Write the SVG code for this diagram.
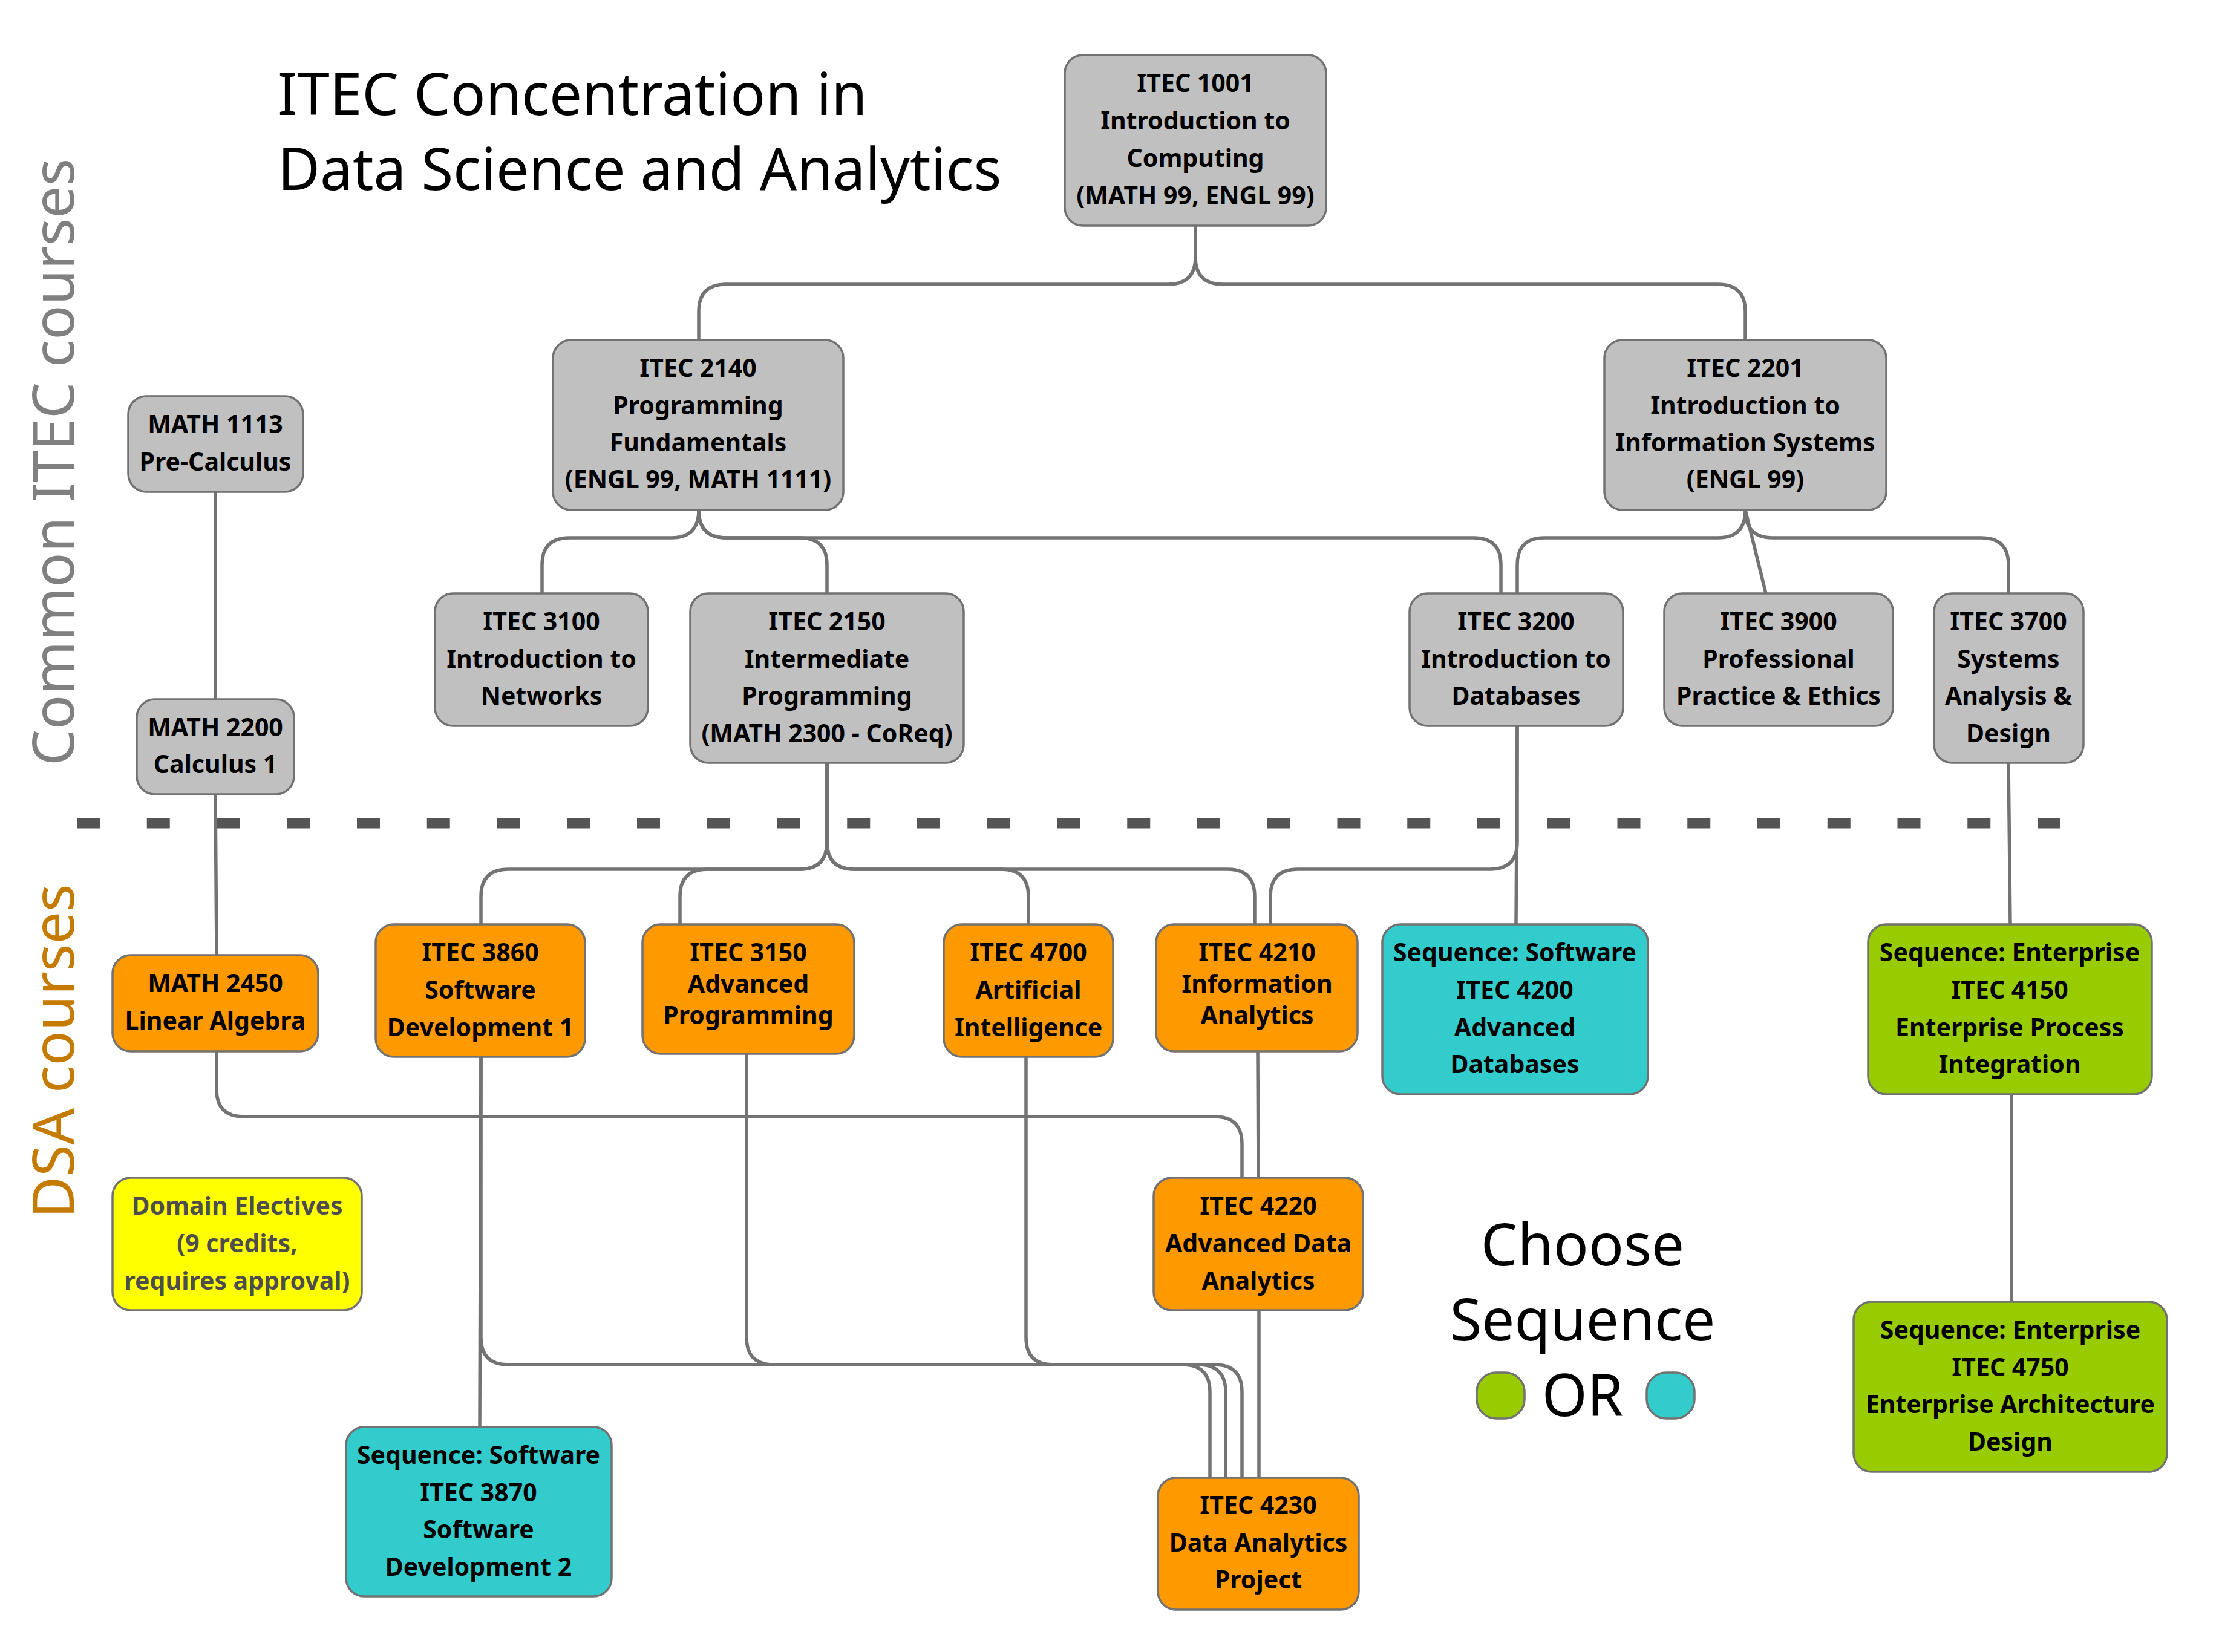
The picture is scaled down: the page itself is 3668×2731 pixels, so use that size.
<svg xmlns="http://www.w3.org/2000/svg" width="3668" height="2731" viewBox="0 0 3668 2731">
<style>
.bx{stroke:#727272;stroke-width:3.5}
.g{fill:#c0c0c0}.o{fill:#ff9900}.t{fill:#33cccc}.gr{fill:#99cc00}.y{fill:#ffff00}
.nt{font-family:"Noto Sans","Open Sans",sans-serif;font-weight:bold;font-size:41px;text-anchor:middle;fill:#000}
.dt{fill:#4d4d4d}
.big{font-family:"Noto Sans","Open Sans",sans-serif;font-size:96px;fill:#000}
.side{font-family:"Noto Sans","Open Sans",sans-serif;font-size:95px}
.c path{fill:none;stroke:#737373;stroke-width:5.5}
</style>
<rect width="3668" height="2731" fill="#fff"/>
<text class="big" x="459" y="190">ITEC Concentration in</text>
<text class="big" x="459" y="314">Data Science and Analytics</text>
<text class="side" fill="#808080" transform="translate(122,1266) rotate(-90)">Common ITEC courses</text>
<text class="side" fill="#c57a00" transform="translate(122,2014) rotate(-90)">DSA courses</text>
<path d="M127 1361H3406" stroke="#555" stroke-width="17" stroke-dasharray="38 77.75" fill="none"/>
<g class="c">
<path d="M1976 373V425Q1976 470 1931 470H1200Q1155 470 1155 515V562"/>
<path d="M1976 373V425Q1976 470 2021 470H2840Q2885 470 2885 515V562"/>
<path d="M1155 843Q1155 889 1110 889H941Q896 889 896 934V981"/>
<path d="M1155 843Q1155 889 1200 889H1322Q1367 889 1367 934V981"/>
<path d="M1155 843Q1155 889 1200 889H2436Q2481 889 2481 934V981"/>
<path d="M2885 843Q2885 889 2840 889H2553Q2508 889 2508 934V981"/>
<path d="M2885 843L2919 981"/>
<path d="M2885 843Q2885 889 2930 889H3275Q3320 889 3320 934V981"/>
<path d="M356 813V1156"/>
<path d="M356 1313L358 1579"/>
<path d="M1367 1261V1392Q1367 1437 1322 1437H840Q795 1437 795 1482V1528"/>
<path d="M1367 1261V1392Q1367 1437 1322 1437H1169Q1124 1437 1124 1482V1528"/>
<path d="M1367 1261V1392Q1367 1437 1412 1437H1655Q1700 1437 1700 1482V1528"/>
<path d="M1367 1261V1392Q1367 1437 1412 1437H2029Q2074 1437 2074 1482V1528"/>
<path d="M2508 1200V1392Q2508 1437 2463 1437H2145Q2100 1437 2100 1482V1528"/>
<path d="M2508 1200L2506 1528"/>
<path d="M3320 1261L3323 1528"/>
<path d="M3325 1809V2152"/>
<path d="M358 1738V1801Q358 1846 403 1846H2008Q2053 1846 2053 1891V1947"/>
<path d="M2079 1738L2080 1947"/>
<path d="M2081 2166V2443"/>
<path d="M795 1747L793 2359"/>
<path d="M795 1747V2211Q795 2256 840 2256H1955Q2000 2256 2000 2301V2443"/>
<path d="M1234 1742V2211Q1234 2256 1279 2256H1981Q2026 2256 2026 2301V2443"/>
<path d="M1696 1747V2211Q1696 2256 1741 2256H2008Q2053 2256 2053 2301V2443"/>
</g>
<g id="n1001"><rect class="bx g" x="1760" y="91" width="432" height="282" rx="30"/><text class="nt"><tspan x="1976" y="152">ITEC 1001</tspan><tspan x="1976" y="214">Introduction to</tspan><tspan x="1976" y="276">Computing</tspan><tspan x="1976" y="338">(MATH 99, ENGL 99)</tspan></text></g>
<g id="n2140"><rect class="bx g" x="914" y="562" width="480" height="281" rx="30"/><text class="nt"><tspan x="1154" y="623">ITEC 2140</tspan><tspan x="1154" y="685">Programming</tspan><tspan x="1154" y="746">Fundamentals</tspan><tspan x="1154" y="807">(ENGL 99, MATH 1111)</tspan></text></g>
<g id="n2201"><rect class="bx g" x="2652" y="562" width="466" height="281" rx="30"/><text class="nt"><tspan x="2885" y="623">ITEC 2201</tspan><tspan x="2885" y="685">Introduction to</tspan><tspan x="2885" y="746">Information Systems</tspan><tspan x="2885" y="807">(ENGL 99)</tspan></text></g>
<g id="m1113"><rect class="bx g" x="212" y="655" width="289" height="158" rx="30"/><text class="nt"><tspan x="356" y="716">MATH 1113</tspan><tspan x="356" y="778">Pre-Calculus</tspan></text></g>
<g id="m2200"><rect class="bx g" x="226" y="1156" width="260" height="157" rx="30"/><text class="nt"><tspan x="356" y="1217">MATH 2200</tspan><tspan x="356" y="1278">Calculus 1</tspan></text></g>
<g id="n3100"><rect class="bx g" x="719" y="981" width="352" height="219" rx="30"/><text class="nt"><tspan x="895" y="1042">ITEC 3100</tspan><tspan x="895" y="1104">Introduction to</tspan><tspan x="895" y="1165">Networks</tspan></text></g>
<g id="n2150"><rect class="bx g" x="1141" y="981" width="452" height="280" rx="30"/><text class="nt"><tspan x="1367" y="1042">ITEC 2150</tspan><tspan x="1367" y="1104">Intermediate</tspan><tspan x="1367" y="1165">Programming</tspan><tspan x="1367" y="1227">(MATH 2300 - CoReq)</tspan></text></g>
<g id="n3200"><rect class="bx g" x="2330" y="981" width="353" height="219" rx="30"/><text class="nt"><tspan x="2506" y="1042">ITEC 3200</tspan><tspan x="2506" y="1104">Introduction to</tspan><tspan x="2506" y="1165">Databases</tspan></text></g>
<g id="n3900"><rect class="bx g" x="2751" y="981" width="378" height="219" rx="30"/><text class="nt"><tspan x="2940" y="1042">ITEC 3900</tspan><tspan x="2940" y="1104">Professional</tspan><tspan x="2940" y="1165">Practice &amp; Ethics</tspan></text></g>
<g id="n3700"><rect class="bx g" x="3197" y="981" width="247" height="280" rx="30"/><text class="nt"><tspan x="3320" y="1042">ITEC 3700</tspan><tspan x="3320" y="1104">Systems</tspan><tspan x="3320" y="1165">Analysis &amp;</tspan><tspan x="3320" y="1227">Design</tspan></text></g>
<g id="m2450"><rect class="bx o" x="186" y="1579" width="340" height="159" rx="30"/><text class="nt"><tspan x="356" y="1640">MATH 2450</tspan><tspan x="356" y="1702">Linear Algebra</tspan></text></g>
<g id="n3860"><rect class="bx o" x="621" y="1528" width="346" height="219" rx="30"/><text class="nt"><tspan x="794" y="1589">ITEC 3860</tspan><tspan x="794" y="1651">Software</tspan><tspan x="794" y="1713">Development 1</tspan></text></g>
<g id="n3150"><rect class="bx o" x="1062" y="1528" width="350" height="214" rx="30"/><text class="nt"><tspan x="1237" y="1589">ITEC 3150</tspan><tspan x="1237" y="1641">Advanced</tspan><tspan x="1237" y="1693">Programming</tspan></text></g>
<g id="n4700"><rect class="bx o" x="1560" y="1528" width="280" height="219" rx="30"/><text class="nt"><tspan x="1700" y="1589">ITEC 4700</tspan><tspan x="1700" y="1651">Artificial</tspan><tspan x="1700" y="1713">Intelligence</tspan></text></g>
<g id="n4210"><rect class="bx o" x="1911" y="1528" width="333" height="210" rx="30"/><text class="nt"><tspan x="2078" y="1589">ITEC 4210</tspan><tspan x="2078" y="1641">Information</tspan><tspan x="2078" y="1693">Analytics</tspan></text></g>
<g id="s4200"><rect class="bx t" x="2285" y="1528" width="439" height="281" rx="30"/><text class="nt"><tspan x="2504" y="1589">Sequence: Software</tspan><tspan x="2504" y="1651">ITEC 4200</tspan><tspan x="2504" y="1713">Advanced</tspan><tspan x="2504" y="1774">Databases</tspan></text></g>
<g id="s4150"><rect class="bx gr" x="3088" y="1528" width="469" height="281" rx="30"/><text class="nt"><tspan x="3322" y="1589">Sequence: Enterprise</tspan><tspan x="3322" y="1651">ITEC 4150</tspan><tspan x="3322" y="1713">Enterprise Process</tspan><tspan x="3322" y="1774">Integration</tspan></text></g>
<g id="dom"><rect class="bx y" x="186" y="1947" width="412" height="219" rx="30"/><text class="nt dt"><tspan x="392" y="2008">Domain Electives</tspan><tspan x="392" y="2070">(9 credits,</tspan><tspan x="392" y="2132">requires approval)</tspan></text></g>
<g id="n4220"><rect class="bx o" x="1907" y="1947" width="346" height="219" rx="30"/><text class="nt"><tspan x="2080" y="2008">ITEC 4220</tspan><tspan x="2080" y="2070">Advanced Data</tspan><tspan x="2080" y="2132">Analytics</tspan></text></g>
<g id="s3870"><rect class="bx t" x="572" y="2359" width="439" height="280" rx="30"/><text class="nt"><tspan x="791" y="2420">Sequence: Software</tspan><tspan x="791" y="2482">ITEC 3870</tspan><tspan x="791" y="2543">Software</tspan><tspan x="791" y="2605">Development 2</tspan></text></g>
<g id="n4230"><rect class="bx o" x="1914" y="2443" width="332" height="218" rx="30"/><text class="nt"><tspan x="2080" y="2503">ITEC 4230</tspan><tspan x="2080" y="2565">Data Analytics</tspan><tspan x="2080" y="2626">Project</tspan></text></g>
<g id="s4750"><rect class="bx gr" x="3064" y="2152" width="518" height="281" rx="30"/><text class="nt"><tspan x="3323" y="2213">Sequence: Enterprise</tspan><tspan x="3323" y="2275">ITEC 4750</tspan><tspan x="3323" y="2336">Enterprise Architecture</tspan><tspan x="3323" y="2398">Design</tspan></text></g>
<g id="legend">
<text class="big" text-anchor="middle" fill="#111"><tspan x="2616" y="2092">Choose</tspan><tspan x="2616" y="2216">Sequence</tspan><tspan x="2616" y="2341">OR</tspan></text>
<rect class="bx gr" x="2441" y="2269" width="79" height="76" rx="32"/>
<rect class="bx t" x="2722" y="2269" width="79" height="76" rx="32"/>
</g>
</svg>
